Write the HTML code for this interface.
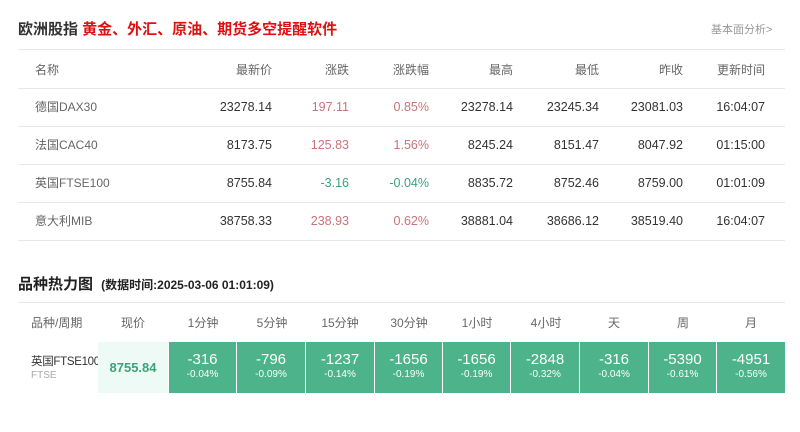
<!DOCTYPE html>
<html><head><meta charset="utf-8"><style>
body{margin:0;width:800px;height:432px;background:#fff;position:relative;font-family:"Liberation Sans","Noto Sans CJK SC",sans-serif;overflow:hidden}
.a{position:absolute;white-space:nowrap;line-height:16px}
.l{position:absolute;left:18px;width:767px;height:1px;background:#e8e8e8}
.r{text-align:right}
.t{font-size:12.5px;color:#333}
.h{font-size:12px;color:#666}
.red{color:#c8737a}.grn{color:#3aa37a}
.c{position:absolute;top:342px;height:51px;background:#4db38a;color:#fff;text-align:center}
.c b{display:block;font-weight:normal;font-size:15px;margin-top:9px;line-height:17px}
.c i{display:block;font-style:normal;font-size:10px;line-height:14px}
</style></head><body>
<div class="a" style="left:18px;top:22px;font-size:15px;font-weight:bold;color:#333">欧洲股指 <span style="color:#d11">黄金、外汇、原油、期货多空提醒软件</span></div>
<div class="a" style="left:711px;top:22px;font-size:11px;color:#999">基本面分析&gt;</div>
<div class="l" style="top:49px"></div>
<div class="l" style="top:88px"></div>
<div class="l" style="top:126px"></div>
<div class="l" style="top:164px"></div>
<div class="l" style="top:202px"></div>
<div class="l" style="top:240px"></div>
<div class="a h" style="left:35px;top:62px">名称</div>
<div class="a h r" style="right:528px;top:62px">最新价</div>
<div class="a h r" style="right:451px;top:62px">涨跌</div>
<div class="a h r" style="right:371px;top:62px">涨跌幅</div>
<div class="a h r" style="right:287px;top:62px">最高</div>
<div class="a h r" style="right:201px;top:62px">最低</div>
<div class="a h r" style="right:117px;top:62px">昨收</div>
<div class="a h r" style="right:35px;top:62px">更新时间</div>

<div class="a h" style="left:35px;top:99px">德国DAX30</div>
<div class="a t r" style="right:528px;top:99px">23278.14</div>
<div class="a t r red" style="right:451px;top:99px">197.11</div>
<div class="a t r red" style="right:371px;top:99px">0.85%</div>
<div class="a t r" style="right:287px;top:99px">23278.14</div>
<div class="a t r" style="right:201px;top:99px">23245.34</div>
<div class="a t r" style="right:117px;top:99px">23081.03</div>
<div class="a t r" style="right:35px;top:99px">16:04:07</div>

<div class="a h" style="left:35px;top:137px">法国CAC40</div>
<div class="a t r" style="right:528px;top:137px">8173.75</div>
<div class="a t r red" style="right:451px;top:137px">125.83</div>
<div class="a t r red" style="right:371px;top:137px">1.56%</div>
<div class="a t r" style="right:287px;top:137px">8245.24</div>
<div class="a t r" style="right:201px;top:137px">8151.47</div>
<div class="a t r" style="right:117px;top:137px">8047.92</div>
<div class="a t r" style="right:35px;top:137px">01:15:00</div>

<div class="a h" style="left:35px;top:175px">英国FTSE100</div>
<div class="a t r" style="right:528px;top:175px">8755.84</div>
<div class="a t r grn" style="right:451px;top:175px">-3.16</div>
<div class="a t r grn" style="right:371px;top:175px">-0.04%</div>
<div class="a t r" style="right:287px;top:175px">8835.72</div>
<div class="a t r" style="right:201px;top:175px">8752.46</div>
<div class="a t r" style="right:117px;top:175px">8759.00</div>
<div class="a t r" style="right:35px;top:175px">01:01:09</div>

<div class="a h" style="left:35px;top:213px">意大利MIB</div>
<div class="a t r" style="right:528px;top:213px">38758.33</div>
<div class="a t r red" style="right:451px;top:213px">238.93</div>
<div class="a t r red" style="right:371px;top:213px">0.62%</div>
<div class="a t r" style="right:287px;top:213px">38881.04</div>
<div class="a t r" style="right:201px;top:213px">38686.12</div>
<div class="a t r" style="right:117px;top:213px">38519.40</div>
<div class="a t r" style="right:35px;top:213px">16:04:07</div>

<div class="a" style="left:18px;top:277px;font-size:15px;font-weight:bold;color:#222">品种热力图 <span style="font-size:12px;margin-left:4px">(数据时间:2025-03-06 01:01:09)</span></div>
<div class="l" style="top:302px"></div>

<div class="a h" style="left:31px;top:315px">品种/周期</div>
<div class="a h" style="left:98px;width:70px;text-align:center;top:315px">现价</div>
<div class="a" style="left:31px;top:354px;font-size:11.5px;color:#333;letter-spacing:-0.3px">英国FTSE100</div>
<div class="a" style="left:31px;top:368px;font-size:10px;color:#aaa">FTSE</div>
<div class="a" style="left:98px;top:342px;width:70px;height:51px;background:#eefaf5;color:#3aa37a;font-size:13px;font-weight:bold;text-align:center;line-height:51px">8755.84</div>

<div class="a h" style="left:169px;width:68px;text-align:center;top:315px">1分钟</div>
<div class="a h" style="left:238px;width:68px;text-align:center;top:315px">5分钟</div>
<div class="a h" style="left:306px;width:68px;text-align:center;top:315px">15分钟</div>
<div class="a h" style="left:375px;width:68px;text-align:center;top:315px">30分钟</div>
<div class="a h" style="left:443px;width:68px;text-align:center;top:315px">1小时</div>
<div class="a h" style="left:512px;width:68px;text-align:center;top:315px">4小时</div>
<div class="a h" style="left:580px;width:68px;text-align:center;top:315px">天</div>
<div class="a h" style="left:649px;width:68px;text-align:center;top:315px">周</div>
<div class="a h" style="left:717px;width:68px;text-align:center;top:315px">月</div>

<div class="c" style="left:169px;width:67px"><b>-316</b><i>-0.04%</i></div>
<div class="c" style="left:237px;width:68px"><b>-796</b><i>-0.09%</i></div>
<div class="c" style="left:306px;width:68px"><b>-1237</b><i>-0.14%</i></div>
<div class="c" style="left:375px;width:67px"><b>-1656</b><i>-0.19%</i></div>
<div class="c" style="left:443px;width:67px"><b>-1656</b><i>-0.19%</i></div>
<div class="c" style="left:511px;width:68px"><b>-2848</b><i>-0.32%</i></div>
<div class="c" style="left:580px;width:68px"><b>-316</b><i>-0.04%</i></div>
<div class="c" style="left:649px;width:67px"><b>-5390</b><i>-0.61%</i></div>
<div class="c" style="left:717px;width:68px"><b>-4951</b><i>-0.56%</i></div>
</body></html>
